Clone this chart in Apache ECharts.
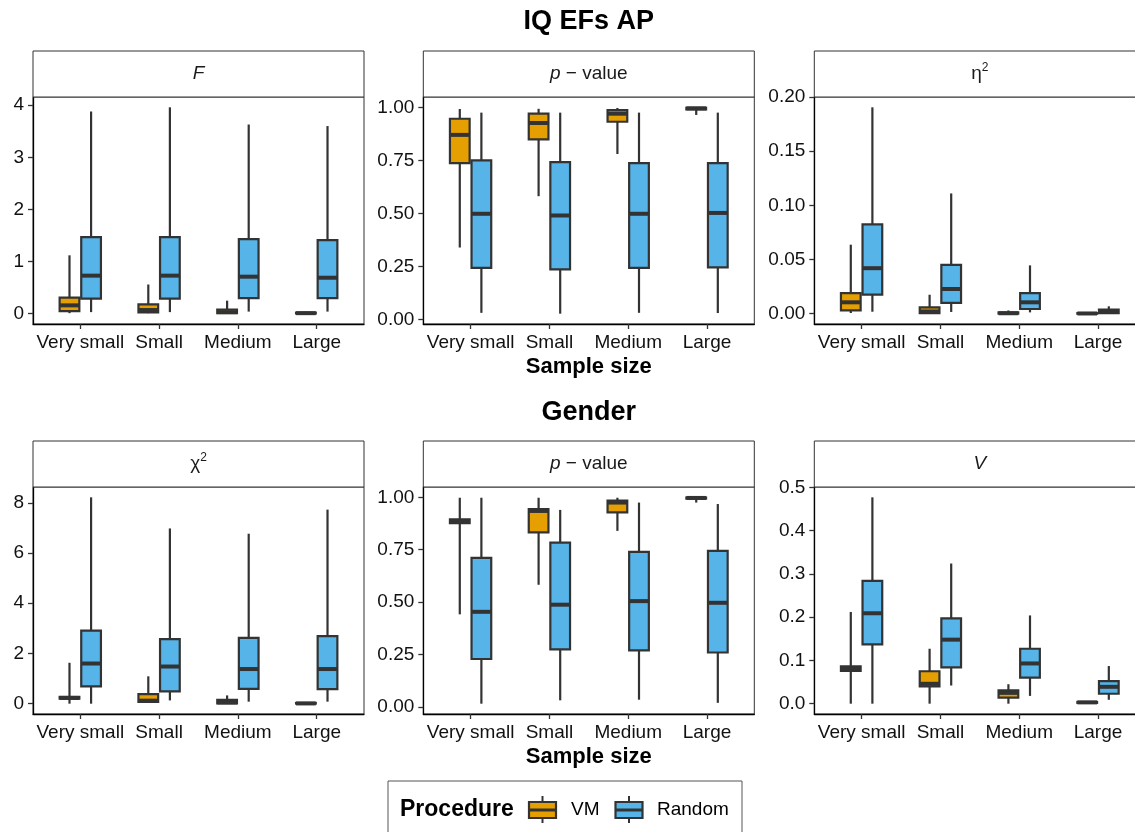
<!DOCTYPE html>
<html><head><meta charset="utf-8">
<script src="https://cdn.jsdelivr.net/npm/echarts@6/dist/echarts.min.js"></script>
<style>html,body{margin:0;padding:0;background:#fff}#c{width:1135px;height:832px}</style>
</head><body><div id="c"></div>
<script>
// ---------------- DATA ----------------
const categories = ['Very small', 'Small', 'Medium', 'Large'];
const procedures = ['VM', 'Random'];
// each box: [min, q1, median, q3, max] per category
const F_VM      = [[0.01,0.05,0.16,0.31,1.12],[0.01,0.025,0.07,0.18,0.56],[0,0.01,0.03,0.08,0.25],[0,0.004,0.01,0.02,0.035]];
const F_Random  = [[0.03,0.29,0.73,1.47,3.88],[0.03,0.29,0.73,1.47,3.96],[0.04,0.30,0.71,1.43,3.63],[0.04,0.30,0.69,1.41,3.60]];
const PAP_VM     = [[0.339,0.737,0.87,0.946,0.992],[0.581,0.849,0.926,0.97,0.993],[0.78,0.932,0.97,0.987,0.997],[0.964,0.99,0.995,0.998,1.0]];
const PAP_Random = [[0.031,0.243,0.498,0.75,0.975],[0.027,0.236,0.49,0.742,0.975],[0.031,0.243,0.498,0.737,0.975],[0.03,0.245,0.502,0.737,0.975]];
const ETA_VM     = [[0.0006,0.003,0.0105,0.019,0.0637],[0.0003,0.0006,0.002,0.0058,0.0175],[0,0.0001,0.0004,0.0012,0.003],[0,0,0.0002,0.0005,0.0008]];
const ETA_Random = [[0.0018,0.0175,0.042,0.0825,0.1905],[0.0016,0.0099,0.0228,0.045,0.111],[0.0012,0.0043,0.0105,0.019,0.0446],[0.0001,0.0006,0.0017,0.0037,0.0068]];
const CHI_VM     = [[0,0.2,0.23,0.27,1.63],[0.05,0.07,0.12,0.38,1.09],[0,0.01,0.05,0.15,0.33],[0,0.005,0.01,0.03,0.05]];
const CHI_Random = [[0,0.69,1.6,2.91,8.22],[0.13,0.49,1.48,2.57,6.98],[0.08,0.59,1.38,2.62,6.77],[0.08,0.58,1.38,2.69,7.73]];
const PG_VM      = [[0.442,0.877,0.886,0.895,0.998],[0.583,0.833,0.935,0.944,0.998],[0.84,0.928,0.975,0.984,0.998],[0.975,0.994,0.997,0.999,1.0]];
const PG_Random  = [[0.016,0.229,0.454,0.711,0.998],[0.032,0.275,0.488,0.784,0.94],[0.035,0.27,0.505,0.74,0.975],[0.02,0.26,0.497,0.745,0.968]];
const V_VM       = [[0,0.0756,0.081,0.0864,0.212],[0,0.04,0.046,0.075,0.127],[0,0.014,0.025,0.031,0.045],[0,0.002,0.003,0.004,0.006]];
const V_Random   = [[0,0.137,0.209,0.284,0.477],[0.042,0.084,0.148,0.197,0.324],[0.018,0.06,0.093,0.127,0.204],[0.009,0.023,0.039,0.052,0.087]];

const ticksF   = [0, 1, 2, 3, 4];
const ticksP   = [0, 0.25, 0.5, 0.75, 1];
const ticksEta = [0, 0.05, 0.1, 0.15, 0.2];
const ticksChi = [0, 2, 4, 6, 8];
const ticksV   = [0, 0.1, 0.2, 0.3, 0.4, 0.5];

const rowTitles = ['IQ EFs AP', 'Gender'];
const xTitle = 'Sample size';
const legendTitle = 'Procedure';

// ---------------- STYLE / LAYOUT ----------------
const FONT = '"Liberation Sans", Arial, sans-serif';
const COL = { VM: '#E69F00', Random: '#56B4E9' };
const LINE = '#333333';
const PW = 331, PH = 227;
const lefts = [33, 423.3, 814.3];
const tops = [97, 487];
const stripH = 46;

const panels = [
  { vm: F_VM,   rd: F_Random,   ticks: ticksF,   dec: 0, strip: '{it|F}' },
  { vm: PAP_VM, rd: PAP_Random, ticks: ticksP,   dec: 2, strip: '{it|p}{n| − value}' },
  { vm: ETA_VM, rd: ETA_Random, ticks: ticksEta, dec: 2, strip: '{n|η}{sup|2}' },
  { vm: CHI_VM, rd: CHI_Random, ticks: ticksChi, dec: 0, strip: '{n|χ}{sup|2}' },
  { vm: PG_VM,  rd: PG_Random,  ticks: ticksP,   dec: 2, strip: '{it|p}{n| − value}' },
  { vm: V_VM,   rd: V_Random,   ticks: ticksV,   dec: 1, strip: '{it|V}' }
];

const BOX_W = 0.25, DODGE = 0.137;

function makeRender(offset, color) {
  return function (params, api) {
    const x = api.value(0) + offset;
    const pMin = api.coord([x, api.value(1)]);
    const pQ1 = api.coord([x, api.value(2)]);
    const pMed = api.coord([x, api.value(3)]);
    const pQ3 = api.coord([x, api.value(4)]);
    const pMax = api.coord([x, api.value(5)]);
    const hw = api.size([BOX_W, 0])[0] / 2;
    const cx = pMed[0];
    return {
      type: 'group',
      children: [
        { type: 'line', shape: { x1: cx, y1: pMax[1], x2: cx, y2: pQ3[1] }, style: { stroke: LINE, lineWidth: 2.2 } },
        { type: 'line', shape: { x1: cx, y1: pQ1[1], x2: cx, y2: pMin[1] }, style: { stroke: LINE, lineWidth: 2.2 } },
        { type: 'rect', shape: { x: cx - hw, y: pQ3[1], width: 2 * hw, height: pQ1[1] - pQ3[1] }, style: { fill: color, stroke: LINE, lineWidth: 2.2 } },
        { type: 'line', shape: { x1: cx - hw, y1: pMed[1], x2: cx + hw, y2: pMed[1] }, style: { stroke: LINE, lineWidth: 4 } }
      ]
    };
  };
}

const grids = [], xAxes = [], yAxes = [], series = [], graphics = [];
const richStrip = {
  it: { fontFamily: FONT, fontSize: 19, fontStyle: 'italic', fill: '#1a1a1a', color: '#1a1a1a', lineHeight: 24 },
  n: { fontFamily: FONT, fontSize: 19, fill: '#1a1a1a', color: '#1a1a1a', lineHeight: 24 },
  sup: { fontFamily: FONT, fontSize: 12, fill: '#1a1a1a', color: '#1a1a1a', verticalAlign: 'top', lineHeight: 12 }
};

panels.forEach((p, i) => {
  const col = i % 3, row = Math.floor(i / 3);
  const left = lefts[col], top = tops[row];
  let lo = Infinity, hi = -Infinity;
  [p.vm, p.rd].forEach(arr => arr.forEach(b => { lo = Math.min(lo, b[0]); hi = Math.max(hi, b[4]); }));
  const pad = (hi - lo) * 0.05;
  grids.push({ left: left, top: top, width: PW, height: PH, show: true, borderColor: '#333', borderWidth: 1,
    backgroundColor: 'transparent', containLabel: false, outerBoundsMode: 'none' });
  xAxes.push({
    gridIndex: i, type: 'value', min: 0.4, max: 4.6,
    splitLine: { show: false },
    axisLine: { show: true, onZero: false, lineStyle: { color: '#000', width: 1.3 } },
    axisTick: { show: true, customValues: [1, 2, 3, 4], length: 5, lineStyle: { color: '#333', width: 1.3 } },
    axisLabel: { customValues: [1, 2, 3, 4], formatter: v => categories[Math.round(v) - 1], fontSize: 19, color: '#111', margin: 9, fontFamily: FONT }
  });
  yAxes.push({
    gridIndex: i, type: 'value', min: lo - pad, max: hi + pad,
    splitLine: { show: false },
    axisLine: { show: true, onZero: false, lineStyle: { color: '#000', width: 1.3 } },
    axisTick: { show: true, customValues: p.ticks, length: 5, lineStyle: { color: '#333', width: 1.3 } },
    axisLabel: { customValues: p.ticks, formatter: v => Number(v).toFixed(p.dec), fontSize: 19, color: '#111', margin: 9, fontFamily: FONT }
  });
  [[p.vm, 'VM', -DODGE], [p.rd, 'Random', DODGE]].forEach(([arr, name, off]) => {
    series.push({
      type: 'custom', name: name, xAxisIndex: i, yAxisIndex: i,
      data: arr.map((b, k) => [k + 1].concat(b)),
      encode: { x: 0, y: [1, 2, 3, 4, 5] },
      renderItem: makeRender(off, COL[name]),
      silent: true
    });
  });
  // strip
  graphics.push({ type: 'rect', shape: { x: left, y: top - stripH, width: PW, height: stripH },
    style: { fill: '#fff', stroke: '#333', lineWidth: 1 }, z: 5 });
  graphics.push({ type: 'text', x: left + PW / 2, y: top - stripH / 2, z: 6,
    style: { text: p.strip, rich: richStrip, align: 'center', verticalAlign: 'middle', textAlign: 'center', textVerticalAlign: 'middle' } });
});

function txt(text, x, y, size, bold, align) {
  return { type: 'text', x: x, y: y, z: 6,
    style: { text: text, fill: '#000', font: (bold ? 'bold ' : '') + size + 'px ' + FONT,
      align: align || 'center', verticalAlign: 'middle', textAlign: align || 'center', textVerticalAlign: 'middle' } };
}
const cx = lefts[1] + PW / 2;
graphics.push(txt(rowTitles[0], cx, 22, 27, true));
graphics.push(txt(xTitle, cx, 367, 22, true));
graphics.push(txt(rowTitles[1], cx, 413, 27, true));
graphics.push(txt(xTitle, cx, 757, 22, true));

// legend
graphics.push({ type: 'rect', shape: { x: 388, y: 781, width: 354, height: 70 }, style: { fill: '#fff', stroke: '#555', lineWidth: 1 }, z: 4 });
graphics.push(txt(legendTitle, 400, 810, 23, true, 'left'));
function key(x0, color) {
  const kx = x0 + 13.5;
  return [
    { type: 'line', shape: { x1: kx, y1: 796, x2: kx, y2: 823 }, style: { stroke: LINE, lineWidth: 2 }, z: 6 },
    { type: 'rect', shape: { x: x0, y: 802, width: 27, height: 16 }, style: { fill: color, stroke: LINE, lineWidth: 2.2 }, z: 6 },
    { type: 'line', shape: { x1: x0, y1: 810, x2: x0 + 27, y2: 810 }, style: { stroke: LINE, lineWidth: 3 }, z: 6 }
  ];
}
key(529, COL.VM).forEach(g => graphics.push(g));
graphics.push(txt(procedures[0], 571, 810, 19, false, 'left'));
key(615.5, COL.Random).forEach(g => graphics.push(g));
graphics.push(txt(procedures[1], 657, 810, 19, false, 'left'));

const chart = echarts.init(document.getElementById('c'), null, { renderer: 'canvas' });
chart.setOption({
  animation: false,
  backgroundColor: '#fff',
  grid: grids, xAxis: xAxes, yAxis: yAxes, series: series,
  graphic: { elements: graphics }
});
</script></body></html>
